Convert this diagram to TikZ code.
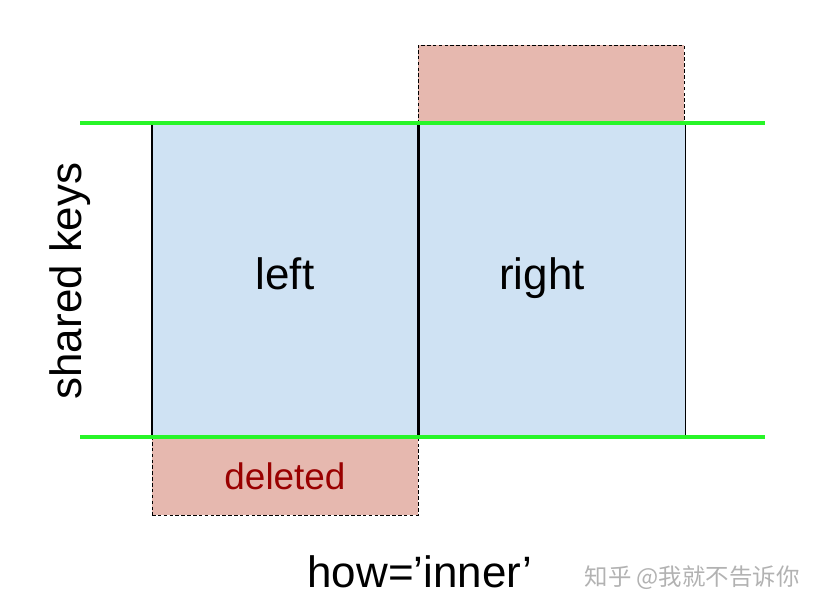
\documentclass[tikz,border=0pt]{standalone}
\usepackage{fontspec}
\setmainfont{Liberation Sans}
\newfontfamily\cjkfont{Noto Sans CJK SC}
\usetikzlibrary{positioning}
\definecolor{keyblue}{RGB}{207, 226, 243}
\definecolor{droppink}{RGB}{230, 184, 175}
\definecolor{dropred}{RGB}{153, 0, 0}
\definecolor{keygreen}{RGB}{40, 245, 40}
\tikzset{
  keybox/.style={rectangle, draw=black, line width=0.9pt, fill=keyblue,
                 minimum width=7.98cm, minimum height=9.42cm, inner sep=0pt,
                 text height=24pt, text depth=7pt,
                 font=\fontsize{37.5}{45}\selectfont},
  dropbox/.style={rectangle, draw=black, line width=0.7pt, densely dashed, fill=droppink,
                  minimum width=7.98cm, minimum height=2.34cm, inner sep=0pt,
                  font=\fontsize{31.5}{38}\selectfont, text=dropred},
  keyline/.style={keygreen, line width=2.6pt},
  bigtext/.style={font=\fontsize{37.5}{45}\selectfont, inner sep=0pt},
}
\begin{document}
\begin{tikzpicture}[x=0.03cm, y=-0.03cm]
  \useasboundingbox (0,0) rectangle (837,605);
  % unmatched rows
  \node[dropbox] (rtop) at (551, 84) {};
  \node[dropbox] (lbot) at (285, 476) {deleted};
  % shared key blocks
  \node[keybox] (left) at (285, 280) {left};
  \node[keybox, right=0pt of left] (right) {right\kern0.6cm};
  % key range limits
  \coordinate (topw) at (80, 123);
  \coordinate (tope) at (765, 123);
  \coordinate (botw) at (80, 437);
  \coordinate (bote) at (765, 437);
  \draw[keyline] (topw) -- (tope);
  \draw[keyline] (botw) -- (bote);
  % labels
  \node[bigtext, rotate=90] (keys) at (70, 281) {shared keys};
  \node[bigtext] (how) at (420, 572) {how=’inner’};
  \node[font=\cjkfont\fontsize{20}{24}\selectfont, text=black!30] (mark) at (692, 578) {知乎 @我就不告诉你};
\end{tikzpicture}
\end{document}
